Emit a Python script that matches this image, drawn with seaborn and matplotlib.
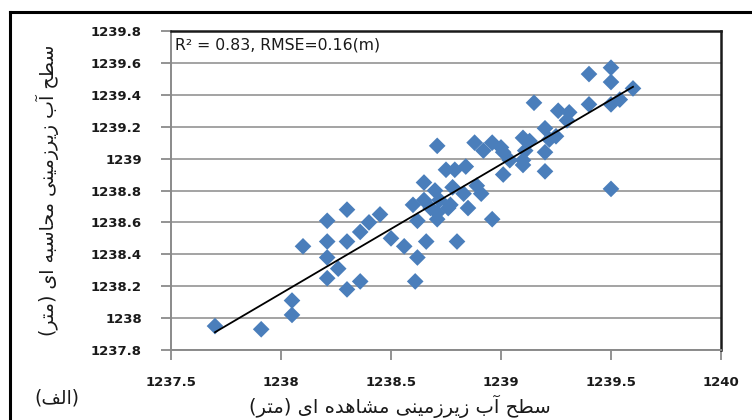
import numpy as np
import pandas as pd
import matplotlib
matplotlib.use("Agg")
import matplotlib.pyplot as plt
from matplotlib.lines import Line2D
import seaborn as sns

# Observed vs. simulated groundwater level (m)
observed = [
    1237.70, 1237.91, 1238.05, 1238.05, 1238.10, 1238.21, 1238.30, 1238.21,
    1238.30, 1238.36, 1238.21, 1238.26, 1238.21, 1238.30, 1238.36, 1238.40,
    1238.45, 1238.50, 1238.56, 1238.62, 1238.66, 1238.80, 1238.61, 1238.96,
    1238.85, 1238.62, 1238.71, 1238.60, 1238.71, 1238.76, 1238.65, 1238.70,
    1238.75, 1238.71, 1238.84, 1238.89, 1238.83, 1238.91, 1238.78, 1238.77,
    1238.65, 1238.72, 1238.68, 1238.88, 1238.96, 1238.92, 1239.01, 1239.10,
    1239.00, 1239.01, 1239.10, 1239.20, 1239.11, 1239.20, 1239.13, 1239.22,
    1239.25, 1239.20, 1239.30, 1239.31, 1239.26, 1239.15, 1239.40, 1239.50,
    1239.54, 1239.60, 1239.50, 1239.50, 1239.40, 1239.50, 1238.79, 1239.10,
    1239.04,
]
simulated = [
    1237.95, 1237.93, 1238.11, 1238.02, 1238.45, 1238.61, 1238.68, 1238.48,
    1238.48, 1238.54, 1238.38, 1238.31, 1238.25, 1238.18, 1238.23, 1238.60,
    1238.65, 1238.50, 1238.45, 1238.38, 1238.48, 1238.48, 1238.23, 1238.62,
    1238.69, 1238.61, 1238.62, 1238.71, 1238.66, 1238.69, 1238.85, 1238.80,
    1238.93, 1239.08, 1238.95, 1238.83, 1238.78, 1238.78, 1238.82, 1238.71,
    1238.74, 1238.74, 1238.69, 1239.10, 1239.10, 1239.05, 1239.04, 1239.13,
    1239.07, 1238.90, 1238.96, 1238.92, 1239.05, 1239.04, 1239.11, 1239.12,
    1239.14, 1239.19, 1239.24, 1239.29, 1239.30, 1239.35, 1239.34, 1239.34,
    1239.37, 1239.44, 1239.48, 1239.57, 1239.53, 1238.81, 1238.93, 1238.99,
    1238.99,
]

x_ticks = [1237.5, 1238, 1238.5, 1239, 1239.5, 1240]
x_tick_labels = ["1237.5", "1238", "1238.5", "1239", "1239.5", "1240"]
y_ticks = [1237.8, 1238.0, 1238.2, 1238.4, 1238.6, 1238.8, 1239.0, 1239.2, 1239.4, 1239.6, 1239.8]
y_tick_labels = ["1237.8", "1238", "1238.2", "1238.4", "1238.6", "1238.8",
                 "1239", "1239.2", "1239.4", "1239.6", "1239.8"]

stats_text = "R\u00b2 = 0.83, RMSE=0.16(m)"
x_title = "سطح آب زیرزمینی مشاهده ای (متر)"
y_title = "سطح آب زیرزمینی محاسبه ای (متر)"
panel_tag = "(الف)"

# --- minimal Persian shaping (matplotlib has no complex text layout) ---
_FORMS = {
    # char: (isolated, final, initial, medial)
    "\u0627": ("\uFE8D", "\uFE8E", None, None),
    "\u0622": ("\uFE81", "\uFE82", None, None),
    "\u062F": ("\uFEA9", "\uFEAA", None, None),
    "\u0631": ("\uFEAD", "\uFEAE", None, None),
    "\u0632": ("\uFEAF", "\uFEB0", None, None),
    "\u0628": ("\uFE8F", "\uFE90", "\uFE91", "\uFE92"),
    "\u062A": ("\uFE95", "\uFE96", "\uFE97", "\uFE98"),
    "\u062D": ("\uFEA1", "\uFEA2", "\uFEA3", "\uFEA4"),
    "\u0633": ("\uFEB1", "\uFEB2", "\uFEB3", "\uFEB4"),
    "\u0634": ("\uFEB5", "\uFEB6", "\uFEB7", "\uFEB8"),
    "\u0637": ("\uFEC1", "\uFEC2", "\uFEC3", "\uFEC4"),
    "\u0641": ("\uFED1", "\uFED2", "\uFED3", "\uFED4"),
    "\u0644": ("\uFEDD", "\uFEDE", "\uFEDF", "\uFEE0"),
    "\u0645": ("\uFEE1", "\uFEE2", "\uFEE3", "\uFEE4"),
    "\u0646": ("\uFEE5", "\uFEE6", "\uFEE7", "\uFEE8"),
    "\u0647": ("\uFEE9", "\uFEEA", "\uFEEB", "\uFEEC"),
    "\u06CC": ("\uFEEF", "\uFEF0", "\uFEF3", "\uFEF4"),
}


def _dual(c):
    return c in _FORMS and _FORMS[c][2] is not None


def _joins(c):
    return c in _FORMS


def shape_rtl(text):
    out = []
    for i, c in enumerate(text):
        if c not in _FORMS:
            out.append(c)
            continue
        prev_c = text[i - 1] if i > 0 else ""
        next_c = text[i + 1] if i + 1 < len(text) else ""
        p = _dual(prev_c)
        n = _dual(c) and _joins(next_c)
        iso, fin, ini, med = _FORMS[c]
        if p and n:
            out.append(med)
        elif p:
            out.append(fin)
        elif n:
            out.append(ini)
        else:
            out.append(iso)
    mirror = {"(": ")", ")": "("}
    return "".join(mirror.get(c, c) for c in reversed(out))


df = pd.DataFrame({"observed": observed, "simulated": simulated})

W, H = 752, 420
fig = plt.figure(figsize=(W / 100, H / 100), dpi=100)
ax = fig.add_axes([171 / W, 1 - 350 / H, (721 - 171) / W, (350 - 31) / H])

grid_c = "#a3a3a3"
ax.set_axisbelow(True)
ax.yaxis.grid(True, color=grid_c, lw=1.4)
ax.xaxis.grid(False)

sns.scatterplot(data=df, x="observed", y="simulated", marker="D", s=72,
                color="#4a7ebb", edgecolor="none", linewidth=0, ax=ax, zorder=3)
sns.regplot(data=df, x="observed", y="simulated", scatter=False, ci=None,
            truncate=True, color="black", line_kws={"lw": 1.3, "zorder": 4}, ax=ax)

ax.set_xlim(1237.5, 1240)
ax.set_ylim(1237.8, 1239.8)
ax.set_xticks(x_ticks)
ax.set_xticklabels(x_tick_labels)
ax.set_yticks(y_ticks)
ax.set_yticklabels(y_tick_labels)
ax.set_xlabel("")
ax.set_ylabel("")

for lab in ax.get_xticklabels() + ax.get_yticklabels():
    lab.set_fontfamily("DejaVu Sans")
    lab.set_fontweight("bold")
    lab.set_fontsize(9.5)
    lab.set_color("#1a1a1a")
ax.tick_params(axis="both", direction="out", length=7, width=1.3, color="#8a8a8a")
ax.tick_params(axis="y", pad=14)
ax.tick_params(axis="x", pad=12)

for side in ("left", "bottom"):
    ax.spines[side].set_color("#8a8a8a")
    ax.spines[side].set_linewidth(1.4)
for side in ("top", "right"):
    ax.spines[side].set_color("#1a1a1a")
    ax.spines[side].set_linewidth(1.8)

ax.text(0.008, 0.955, stats_text, transform=ax.transAxes, ha="left", va="center",
        fontsize=11.3, family="DejaVu Sans", color="#1a1a1a")

fig.text(400 / W, 1 - 406 / H, shape_rtl(x_title), ha="center", va="center",
         fontsize=14, family="DejaVu Sans", color="#1a1a1a")
fig.text(47 / W, 1 - 190 / H, shape_rtl(y_title), ha="center", va="center",
         rotation=90, fontsize=13.7, family="DejaVu Sans", color="#1a1a1a")
fig.text(57 / W, 1 - 398 / H, shape_rtl(panel_tag), ha="center", va="center",
         fontsize=13.5, family="DejaVu Sans", color="#1a1a1a")

# outer chart frame (clipped by the figure edge on the right and bottom)
fig.add_artist(Line2D([10 / W, 10 / W], [0, 1 - 12 / H], transform=fig.transFigure,
                      color="black", lw=2.2))
fig.add_artist(Line2D([10 / W, 1], [1 - 12 / H, 1 - 12 / H], transform=fig.transFigure,
                      color="black", lw=2.2))

fig.savefig("out.png", dpi=100, facecolor="white")
